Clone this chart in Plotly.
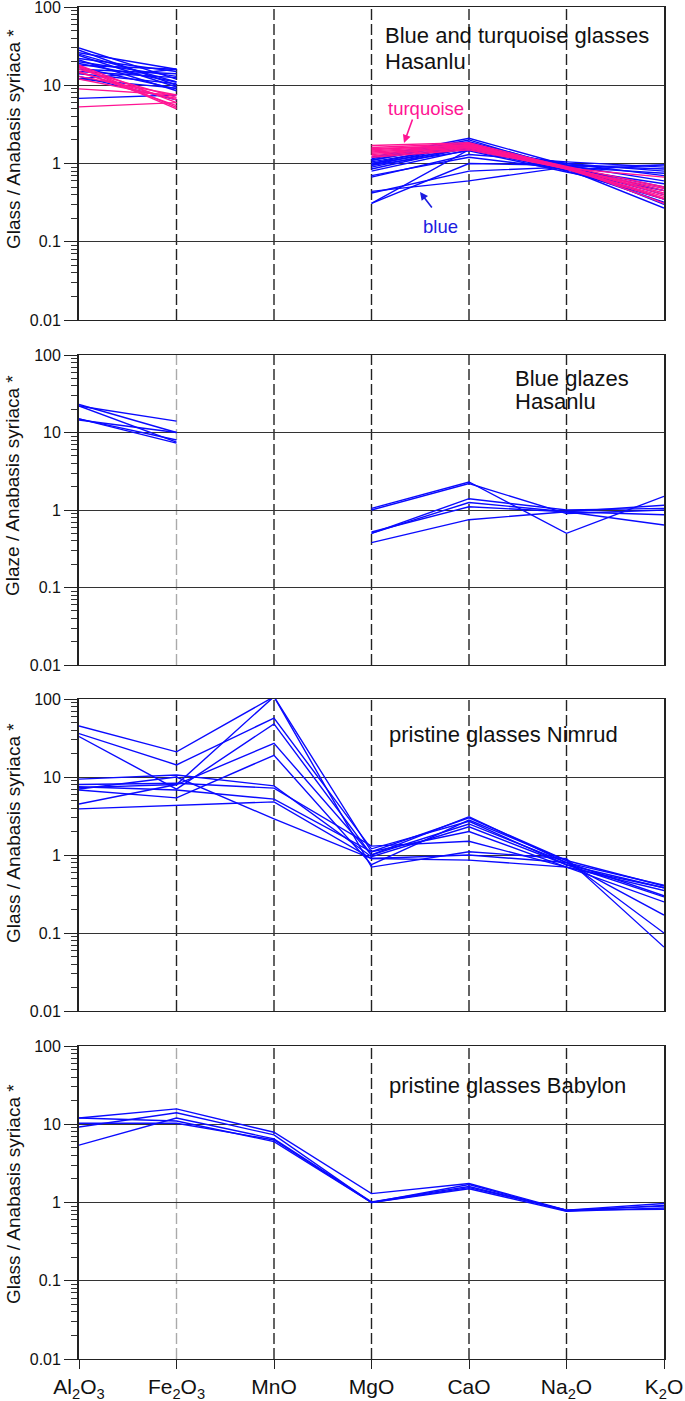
import plotly.graph_objects as go

W, H = 685, 1401

# ---------------- data ----------------
oxides = ["Al<sub>2</sub>O<sub>3</sub>", "Fe<sub>2</sub>O<sub>3</sub>", "MnO", "MgO",
          "CaO", "Na<sub>2</sub>O", "K<sub>2</sub>O"]
ytick_vals = [0.01, 0.1, 1, 10, 100]
ytick_text = ["0.01", "0.1", "1", "10", "100"]

# Panel 1: Hasanlu glasses (MnO not determined -> None)
hasanlu_blue_glass = [
    [30, 12, None, 1.2, 2.1, 0.95, 0.30],
    [28, 10, None, 1.1, 1.9, 0.90, 0.35],
    [26, 16, None, 1.0, 1.8, 0.88, 0.40],
    [24, 9.5, None, 0.95, 1.75, 0.92, 0.45],
    [22, 15, None, 1.05, 1.7, 0.85, 0.27],
    [20, 13, None, 0.9, 1.65, 0.90, 0.50],
    [19, 11, None, 0.85, 1.6, 0.95, 0.60],
    [18, 16, None, 1.0, 1.55, 1.0, 0.70],
    [17, 9, None, 0.8, 1.5, 0.82, 0.96],
    [16, 14, None, 0.67, 1.3, 1.05, 0.90],
    [15, 12.5, None, 0.42, 0.8, 0.90, 0.96],
    [14, 10.5, None, 0.31, 1.0, 0.95, 0.85],
    [13, 6.5, None, 0.31, 1.5, 1.0, 0.80],
    [12, 16, None, 0.44, 0.6, 0.90, 0.75],
    [6.8, 7.5, None, 1.1, 1.85, 0.80, 0.35],
    [21, 8.5, None, 0.7, 1.2, 0.85, 0.55],
    [25, 11, None, 0.95, 1.45, 0.78, 0.45],
    [12, 9.2, None, 1.15, 2.0, 0.85, 0.32],
]
hasanlu_turq_glass = [
    [18, 6.0, None, 1.7, 1.85, 0.90, 0.40],
    [17, 5.0, None, 1.6, 1.8, 0.85, 0.35],
    [16, 7.0, None, 1.5, 1.75, 0.88, 0.45],
    [15, 5.5, None, 1.45, 1.7, 0.92, 0.50],
    [14.5, 6.5, None, 1.4, 1.65, 0.90, 0.31],
    [13, 7.5, None, 1.35, 1.6, 0.85, 0.38],
    [9, 7.5, None, 1.3, 1.6, 0.90, 0.42],
    [5.3, 6.0, None, 1.25, 1.55, 0.87, 0.67],
    [17.5, 5.2, None, 1.2, 1.5, 0.86, 0.48],
    [12, 6.8, None, 1.55, 1.7, 0.90, 0.36],
]

# Panel 2: Hasanlu blue glazes
hasanlu_blue_glaze = [
    [23, 10, None, 1.05, 2.3, 0.5, 1.5],
    [22, 14, None, 1.0, 2.2, 0.9, 1.0],
    [22, 7.5, None, 0.5, 1.4, 1.0, 1.05],
    [15, 7.3, None, 0.5, 1.25, 0.95, 0.87],
    [15, 8, None, 0.52, 1.1, 0.95, 0.64],
    [14.5, 10, None, 0.38, 0.75, 0.95, 1.15],
]

# Panel 3: Nimrud pristine glasses
nimrud_glass = [
    [45, 21, 107, 1.1, 3.0, 0.85, 0.40],
    [36, 14.3, 57, 1.2, 2.7, 0.75, 0.38],
    [33, 7.0, 48, 1.0, 3.1, 0.80, 0.41],
    [9.4, 10.6, 7.7, 0.95, 2.3, 0.75, 0.29],
    [8.0, 8.3, 7.2, 1.3, 1.5, 0.70, 0.25],
    [7.3, 8.0, 27, 1.0, 2.5, 0.80, 0.17],
    [6.8, 5.4, 19, 0.75, 2.8, 0.85, 0.10],
    [4.5, 8.0, 107, 0.70, 1.1, 0.90, 0.066],
    [3.9, 4.3, 4.8, 0.9, 0.86, 0.70, 0.35],
    [7.5, 6.8, 5.2, 1.1, 2.0, 0.70, 0.38],
    [7.0, 10, 2.9, 0.9, 1.0, 0.80, 0.30],
]

# Panel 4: Babylon pristine glasses
babylon_glass = [
    [12, 15.7, 7.9, 1.3, 1.75, 0.80, 0.97],
    [9.2, 14, 7.3, 1.0, 1.7, 0.78, 0.92],
    [10.3, 10.3, 6.3, 1.0, 1.5, 0.77, 0.85],
    [5.4, 12, 6.5, 1.02, 1.6, 0.80, 0.90],
    [12, 11, 6.0, 1.0, 1.55, 0.80, 0.82],
]

panel_titles = [["Blue and turquoise glasses", "Hasanlu"], ["Blue glazes", "Hasanlu"],
                ["pristine glasses Nimrud"], ["pristine glasses Babylon"]]
ytitles = ["Glass / Anabasis syriaca *", "Glaze / Anabasis syriaca *",
           "Glass / Anabasis syriaca *", "Glass / Anabasis syriaca *"]

# ---------------- style ----------------
BLUE = "#0a0aff"
PINK = "#ff1493"
FONT = "Liberation Sans, Arial, sans-serif"
xs = list(range(len(oxides)))

# pixel geometry of panels (top, bottom)
panel_px = [(7, 320), (355, 665), (699, 1011), (1046, 1359)]
x_left, x_right = 79, 664


def px(x):
    return x / W


def py(y):
    return 1 - y / H


def ax_id(letter, n):
    return letter if n == 1 else f"{letter}{n}"


fig = go.Figure()

series = [
    [(hasanlu_blue_glass, BLUE), (hasanlu_turq_glass, PINK)],
    [(hasanlu_blue_glaze, BLUE)],
    [(nimrud_glass, BLUE)],
    [(babylon_glass, BLUE)],
]

for i, groups in enumerate(series):
    n = i + 1
    for data, col in groups:
        for vals in data:
            fig.add_trace(go.Scatter(
                x=xs, y=vals, mode="lines", connectgaps=False,
                line=dict(color=col, width=1.4),
                xaxis=ax_id("x", n), yaxis=ax_id("y", n),
                showlegend=False, hoverinfo="skip"))

minor_vals = [k * 10 ** e for e in range(-2, 2) for k in range(2, 10)]

layout = dict(width=W, height=H, margin=dict(l=0, r=0, t=0, b=0),
              paper_bgcolor="white", plot_bgcolor="white",
              font=dict(family=FONT, color="#111"), showlegend=False)
shapes = []
annotations = []

for i, (top, bot) in enumerate(panel_px):
    n = i + 1
    sfx = "" if n == 1 else str(n)
    last = (n == 4)
    layout[f"xaxis{sfx}"] = dict(
        domain=[px(x_left), px(x_right)], range=[0, len(oxides) - 1],
        anchor=ax_id("y", n), showgrid=False, zeroline=False,
        showline=True, mirror=True, linecolor="#222", linewidth=1.3,
        tickmode="array", tickvals=xs, ticktext=oxides,
        showticklabels=last, ticks="outside" if last else "",
        ticklen=9, tickwidth=1.3, tickcolor="#222", ticklabeloverflow="allow",
        tickfont=dict(size=21, family=FONT, color="#111"), automargin=False)
    layout[f"yaxis{sfx}"] = dict(
        domain=[py(bot), py(top)], type="log", range=[-2, 2],
        anchor=ax_id("x", n), showgrid=True, gridcolor="#333", gridwidth=1,
        zeroline=False, showline=True, mirror=True, linecolor="#222", linewidth=1.8,
        tickmode="array", tickvals=ytick_vals, ticktext=ytick_text,
        ticks="outside", ticklen=13, tickwidth=1.3, tickcolor="#222",
        ticklabeloverflow="allow",
        tickfont=dict(size=16, family=FONT, color="#111"),
        minor=dict(tickmode="array", tickvals=minor_vals, ticks="outside",
                   ticklen=6, tickwidth=1, tickcolor="#333", showgrid=False),
        automargin=False)
    # dashed vertical guide lines at each oxide
    for j in range(1, len(oxides) - 1):
        light = (j == 1 and n in (2, 4))
        shapes.append(dict(type="line", xref=ax_id("x", n), yref=ax_id("y", n) + " domain",
                           x0=j, x1=j, y0=0, y1=1, layer="below",
                           line=dict(color="#aaaaaa" if light else "#222",
                                     width=1.4, dash="11px,4px")))

# y-axis titles
ytitle_centers = [139, 486, 833, 1194]
for i, t in enumerate(ytitles):
    annotations.append(dict(text=t, xref="paper", yref="paper", x=px(13), y=py(ytitle_centers[i]),
                            xanchor="center", yanchor="middle", textangle=-90, showarrow=False,
                            font=dict(size=19, family=FONT, color="#111")))

# panel titles
title_pos = [(383, [36, 61]), (513, [378, 402]), (387, [734]), (387, [1085])]
for (xl, ys), lines in zip(title_pos, panel_titles):
    for yy, txt in zip(ys, lines):
        annotations.append(dict(text=txt, xref="paper", yref="paper", x=px(xl), y=py(yy),
                                xanchor="left", yanchor="middle", showarrow=False,
                                font=dict(size=22, family=FONT, color="#111")))

# labels with arrows in panel 1
annotations.append(dict(text="turquoise", xref="paper", yref="paper", x=px(426), y=py(108),
                        xanchor="center", yanchor="middle", showarrow=False,
                        font=dict(size=18.5, family=FONT, color=PINK)))
annotations.append(dict(text="", xref="paper", yref="paper", x=px(404), y=py(143),
                        ax=9, ay=-25, axref="pixel", ayref="pixel", showarrow=True,
                        arrowhead=2, arrowsize=1, arrowwidth=1.6, arrowcolor=PINK))
annotations.append(dict(text="blue", xref="paper", yref="paper", x=px(440), y=py(226),
                        xanchor="center", yanchor="middle", showarrow=False,
                        font=dict(size=18.5, family=FONT, color="#1c1ce0")))
annotations.append(dict(text="", xref="paper", yref="paper", x=px(420), y=py(192),
                        ax=13, ay=17, axref="pixel", ayref="pixel", showarrow=True,
                        arrowhead=2, arrowsize=1, arrowwidth=1.6, arrowcolor="#1c1ce0"))

layout["shapes"] = shapes
layout["annotations"] = annotations
fig.update_layout(**layout)

fig.write_html("out.html", config={"displayModeBar": False},
               post_script="document.body.style.margin='0';")
